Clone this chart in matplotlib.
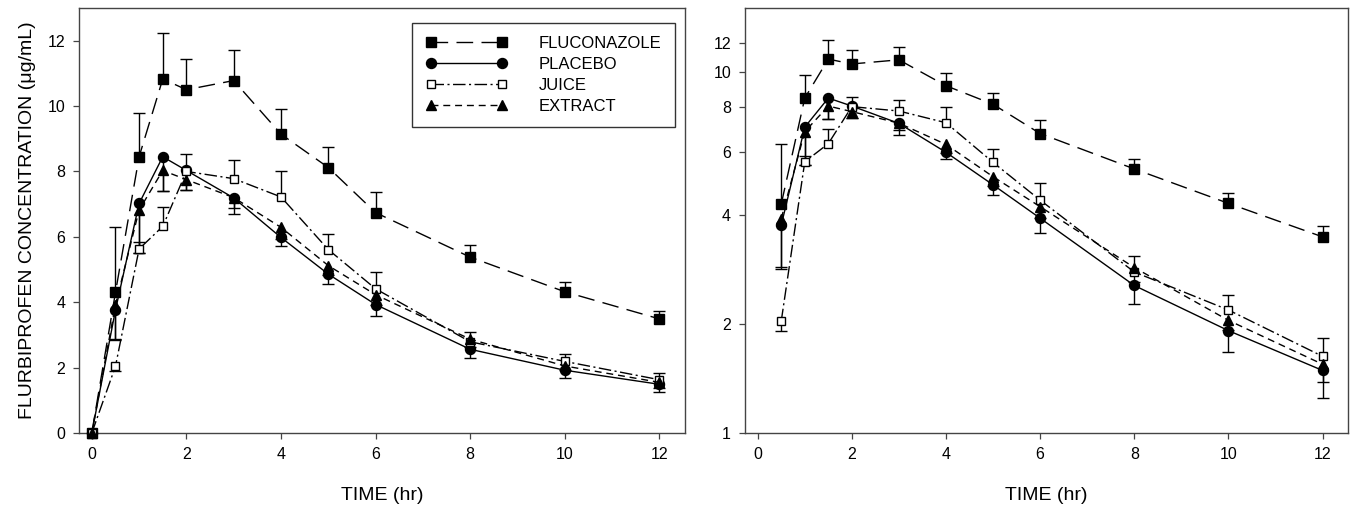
import numpy as np
import matplotlib.pyplot as plt
from matplotlib.ticker import FixedLocator, NullLocator, FixedFormatter

plt.rcParams['font.family'] = ['Liberation Sans', 'DejaVu Sans']
plt.rcParams['lines.scale_dashes'] = False

# data (mean concentration, ug/mL, and one-sided SD bars)
time_hr = [0, 0.5, 1, 1.5, 2, 3, 4, 5, 6, 8, 10, 12]

fluconazole = [0, 4.30, 8.45, 10.83, 10.50, 10.78, 9.14, 8.12, 6.74, 5.38, 4.32, 3.49]
fluconazole_up = [0, 1.99, 1.33, 1.40, 0.95, 0.94, 0.78, 0.63, 0.62, 0.36, 0.29, 0.24]
fluconazole_dn = [0, 0, 0, 0, 0, 0, 0, 0, 0, 0, 0, 0]

placebo = [0, 3.76, 7.02, 8.45, 8.03, 7.19, 5.98, 4.86, 3.93, 2.56, 1.92, 1.49]
placebo_up = [0, 0, 0, 0, 0, 0, 0, 0, 0, 0, 0, 0]
placebo_dn = [0, 0.88, 1.52, 1.04, 0.59, 0.50, 0.25, 0.31, 0.35, 0.28, 0.24, 0.24]

juice = [0, 2.04, 5.63, 6.32, 8.00, 7.78, 7.22, 5.61, 4.41, 2.79, 2.19, 1.63]
juice_up = [0, 0, 0.20, 0.60, 0.53, 0.57, 0.78, 0.49, 0.52, 0.30, 0.22, 0.20]
juice_dn = [0, 0.13, 0, 0, 0, 0, 0, 0, 0, 0, 0, 0]

extract = [0, 3.92, 6.82, 8.03, 7.75, 7.20, 6.29, 5.12, 4.23, 2.87, 2.05, 1.55]
extract_up = [0, 0, 0, 0, 0, 0, 0, 0, 0, 0, 0, 0]
extract_dn = [0, 1.07, 1.32, 0.62, 0.31, 0.32, 0.35, 0.30, 0.30, 0.25, 0.12, 0.17]

series = [
    ('FLUCONAZOLE', fluconazole, fluconazole_up, fluconazole_dn,
     dict(marker='s', ms=6.5, mfc='black', dashes=(12, 6))),
    ('PLACEBO', placebo, placebo_up, placebo_dn,
     dict(marker='o', ms=7.2, mfc='black', dashes=None)),
    ('JUICE', juice, juice_up, juice_dn,
     dict(marker='s', ms=6.2, mfc='white', dashes=(9, 2.5, 1.5, 2.5))),
    ('EXTRACT', extract, extract_up, extract_dn,
     dict(marker='^', ms=7.2, mfc='black', dashes=(5, 3.5))),
]

LW = 1.0
SPINE = '#444444'


def draw_panel(ax, start):
    handles = []
    for name, mean, up, dn, st in series:
        x = np.array(time_hr[start:])
        y = np.array(mean[start:])
        hi = np.array(up[start:])
        lo = np.array(dn[start:])
        has = (hi > 0) | (lo > 0)
        ax.vlines(x[has], (y - lo)[has], (y + hi)[has], color='black', lw=LW, zorder=2)
        ax.plot(x[hi > 0], (y + hi)[hi > 0], ls='none', marker='_', ms=9,
                mew=LW, color='black', zorder=2)
        ax.plot(x[lo > 0], (y - lo)[lo > 0], ls='none', marker='_', ms=9,
                mew=LW, color='black', zorder=2)
        line, = ax.plot(x, y, color='black', lw=LW, marker=st['marker'], ms=st['ms'],
                        mfc=st['mfc'], mec='black', mew=LW, label=name,
                        zorder=3, clip_on=False)
        if st['dashes'] is not None:
            line.set_dashes(st['dashes'])
        handles.append(line)

    ax.set_xlim(-0.27, 12.54)
    ax.set_xticks([0, 2, 4, 6, 8, 10, 12])
    ax.set_xlabel('TIME (hr)', fontsize=14, labelpad=18)
    for s in ax.spines.values():
        s.set_color(SPINE)
        s.set_linewidth(1.0)
    ax.tick_params(direction='out', length=4, width=0.9, color=SPINE,
                   labelsize=11.5, pad=6, top=False, right=False)
    return handles


fig = plt.figure(figsize=(13.58, 5.08), dpi=100)
ax1 = fig.add_axes([0.0582, 0.1476, 0.4462, 0.8367])
ax2 = fig.add_axes([0.5486, 0.1476, 0.4440, 0.8367])

# left panel: linear scale
handles = draw_panel(ax1, 0)
ax1.set_ylim(0, 13)
ax1.set_yticks([0, 2, 4, 6, 8, 10, 12])
ax1.set_ylabel('FLURBIPROFEN CONCENTRATION (\u03bcg/mL)', fontsize=14, labelpad=8)
leg = ax1.legend(handles=handles, loc='upper left', bbox_to_anchor=(0.55, 0.965),
                 borderaxespad=0, numpoints=2, handlelength=4.9, handletextpad=1.9,
                 fontsize=12, labelspacing=0.35, fancybox=False, framealpha=1,
                 edgecolor='#333333', borderpad=0.8)
leg.get_frame().set_linewidth(1.0)

# right panel: log scale, no zero point
draw_panel(ax2, 1)
ax2.set_yscale('log')
ax2.set_ylim(1, 15)
ax2.yaxis.set_major_locator(FixedLocator([1, 2, 4, 6, 8, 10, 12]))
ax2.yaxis.set_major_formatter(FixedFormatter(['1', '2', '4', '6', '8', '10', '12']))
ax2.yaxis.set_minor_locator(NullLocator())

fig.savefig('out.png', dpi=100)
